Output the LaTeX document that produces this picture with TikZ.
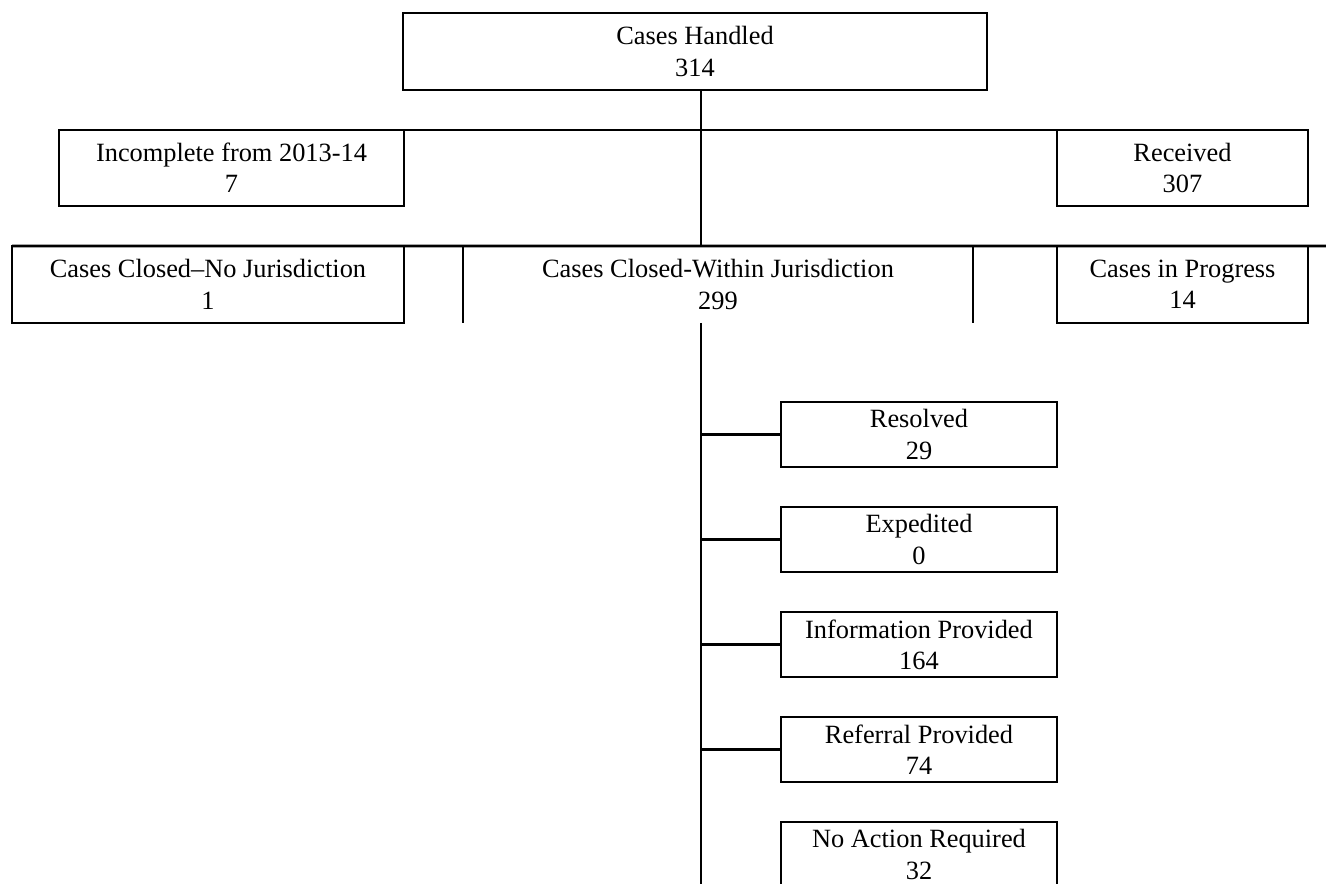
\documentclass[tikz,border=0pt]{standalone}
\usepackage{fontspec}
\setmainfont{Liberation Serif}
\usetikzlibrary{positioning}

\begin{document}
\begin{tikzpicture}[
    line width=1.5pt,
    box/.style={draw, rectangle, align=center, inner sep=0pt, outer sep=0pt,
        font=\fontsize{15}{17.8}\selectfont},
    cell/.style={rectangle, align=center, inner sep=0pt, outer sep=0pt,
        minimum height=1.54cm, font=\fontsize{15}{17.8}\selectfont},
    leaf/.style={box, minimum width=5.52cm, minimum height=1.30cm},
    node distance=0.8cm
  ]
  \useasboundingbox (0,0) rectangle (26.52,-17.68);

  \coordinate (spine) at (14.02,0);
  \coordinate (rowend) at (26.52,-4.92);
  \coordinate (ladderend) at (14.02,-17.68);

  \node[box, minimum width=11.68cm, minimum height=1.54cm] (handled) at (13.90,-1.03) {Cases Handled\\314};

  \node[box, minimum width=6.90cm, minimum height=1.52cm] (incomplete) at (4.63,-3.36) {Incomplete from 2013-14\\7};
  \node[box, minimum width=5.02cm, minimum height=1.52cm] (received) at (23.65,-3.36) {Received\\307};

  \node[box, minimum width=7.84cm, minimum height=1.54cm] (nojur) at (4.16,-5.69) {Cases Closed--No Jurisdiction\\1};
  \node[cell, minimum width=10.20cm] (within) at (14.36,-5.69) {Cases Closed-Within Jurisdiction\\299};
  \node[box, minimum width=5.02cm, minimum height=1.54cm] (progress) at (23.65,-5.69) {Cases in Progress\\14};

  \node[leaf] (resolved) at (18.38,-8.69) {Resolved\\29};
  \node[leaf, below=of resolved] (expedited) {Expedited\\0};
  \node[leaf, below=of expedited] (information) {Information Provided\\164};
  \node[leaf, below=of information] (referral) {Referral Provided\\74};
  \node[leaf, below=of referral] (noaction) {No Action Required\\32};

  \draw (incomplete.north east) -- (received.north west);
  \draw (nojur.north west) -- (rowend);
  \draw (handled.south -| spine) -- (nojur.north -| spine);
  \draw (within.north west) -- (within.south west);
  \draw (within.north east) -- (within.south east);
  \draw (within.south -| spine) -- (ladderend);
  \foreach \n in {resolved,expedited,information,referral}
    \draw (\n.west -| spine) -- (\n.west);
\end{tikzpicture}
\end{document}
